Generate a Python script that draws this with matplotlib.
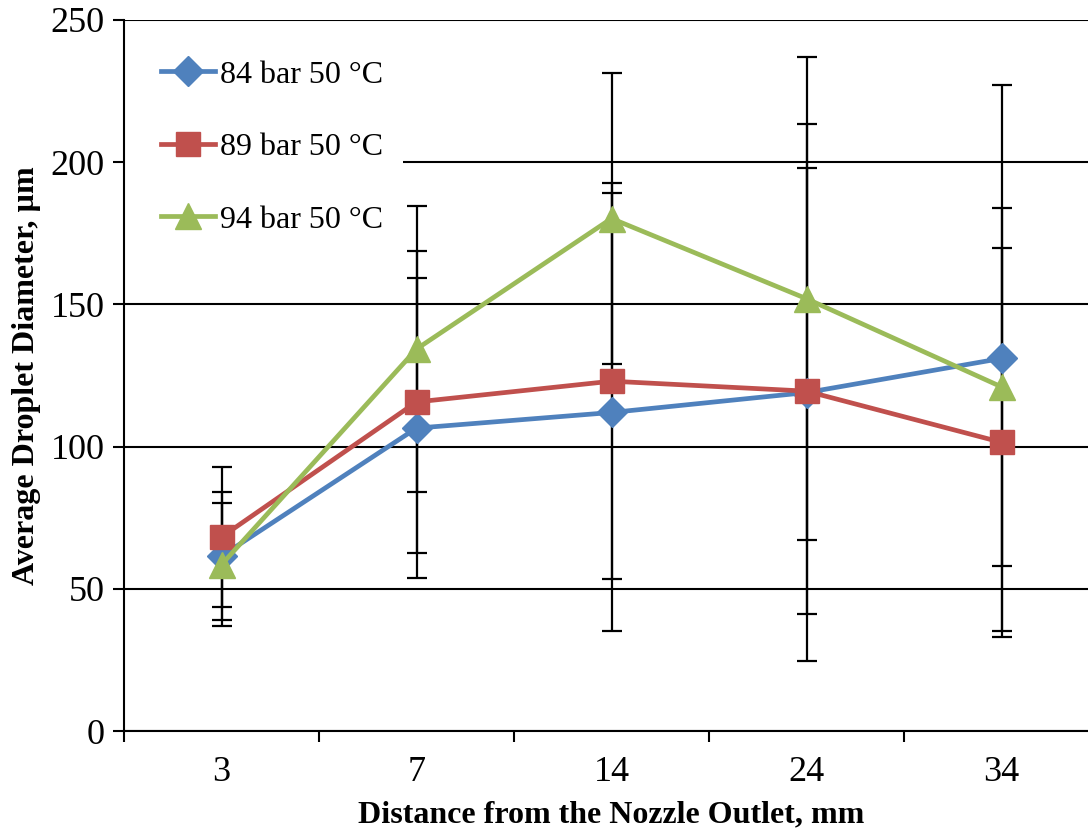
import numpy as np
import matplotlib.pyplot as plt
from matplotlib.patches import Rectangle

plt.rcParams['font.family'] = ['Liberation Serif', 'DejaVu Serif']

distances = ['3', '7', '14', '24', '34']

d84 = [61.5, 106.5, 112, 119, 131]
e84 = [22.5, 52.7, 77, 94.5, 96]

d89 = [68.2, 115.7, 123, 119.5, 101.5]
e89 = [24.7, 53, 69.6, 78.5, 68.5]

d94 = [58.5, 134.3, 180.2, 152, 121]
e94 = [21.5, 50.4, 51, 85, 63]

labels = ['84 bar 50 °C', '89 bar 50 °C', '94 bar 50 °C']
colors = ['#4F81BD', '#C0504D', '#9BBB59']
markers = ['D', 's', '^']
msizes = [15, 17, 19]

fig = plt.figure(figsize=(10.88, 8.32), dpi=100)
ax = fig.add_axes([124/1088, 101/832, 975/1088, 711/832])

x = np.arange(len(distances))

# error bars (black) sit above the legend box, lines with markers on top
for d, e in zip([d84, d89, d94], [e84, e89, e94]):
    ax.errorbar(x, d, yerr=e, fmt='none', ecolor='black', elinewidth=1.6,
                capsize=7, capthick=1.6, zorder=5.5)

for d, lab, c, m, ms in zip([d84, d89, d94], labels, colors, markers, msizes):
    ax.plot(x, d, color=c, lw=3.4, marker=m, markersize=ms, label=lab, zorder=6)

ax.set_xlim(-0.5, 4.5)
ax.set_ylim(0, 250)
ax.set_yticks(np.arange(0, 251, 50))
ax.yaxis.grid(True, color='black', lw=1.5)
ax.set_axisbelow(True)

ax.set_xticks(x)
ax.set_xticklabels(distances)
ax.set_xticks(np.arange(-0.5, 5, 1), minor=True)
ax.tick_params(axis='x', which='major', length=0, pad=18, labelsize=26)
ax.tick_params(axis='x', which='minor', length=8, width=1.5, direction='out')
ax.tick_params(axis='y', length=8, width=1.5, direction='out', labelsize=26, pad=6)

ax.spines['top'].set_visible(False)
ax.spines['right'].set_visible(False)
for s in ['left', 'bottom']:
    ax.spines[s].set_linewidth(1.5)
    ax.spines[s].set_zorder(6)

ax.set_xlabel('Distance from the Nozzle Outlet, mm', fontsize=23, fontweight='bold', labelpad=8)
ax.set_ylabel('Average Droplet Diameter, µm', fontsize=23, fontweight='bold', labelpad=7)

# white box behind the legend hides the grid line under it
ax.add_patch(Rectangle((0, 0.66), 0.286, 0.33, transform=ax.transAxes,
                       facecolor='white', edgecolor='none', zorder=4.9))

leg = ax.legend(loc='upper left', bbox_to_anchor=(0.0, 0.995), fontsize=23,
                frameon=False, labelspacing=1.35, handlelength=1.7,
                handletextpad=0.15, borderpad=1.15, borderaxespad=0.0)
leg.set_zorder(5)

fig.savefig('out.png', dpi=100)
